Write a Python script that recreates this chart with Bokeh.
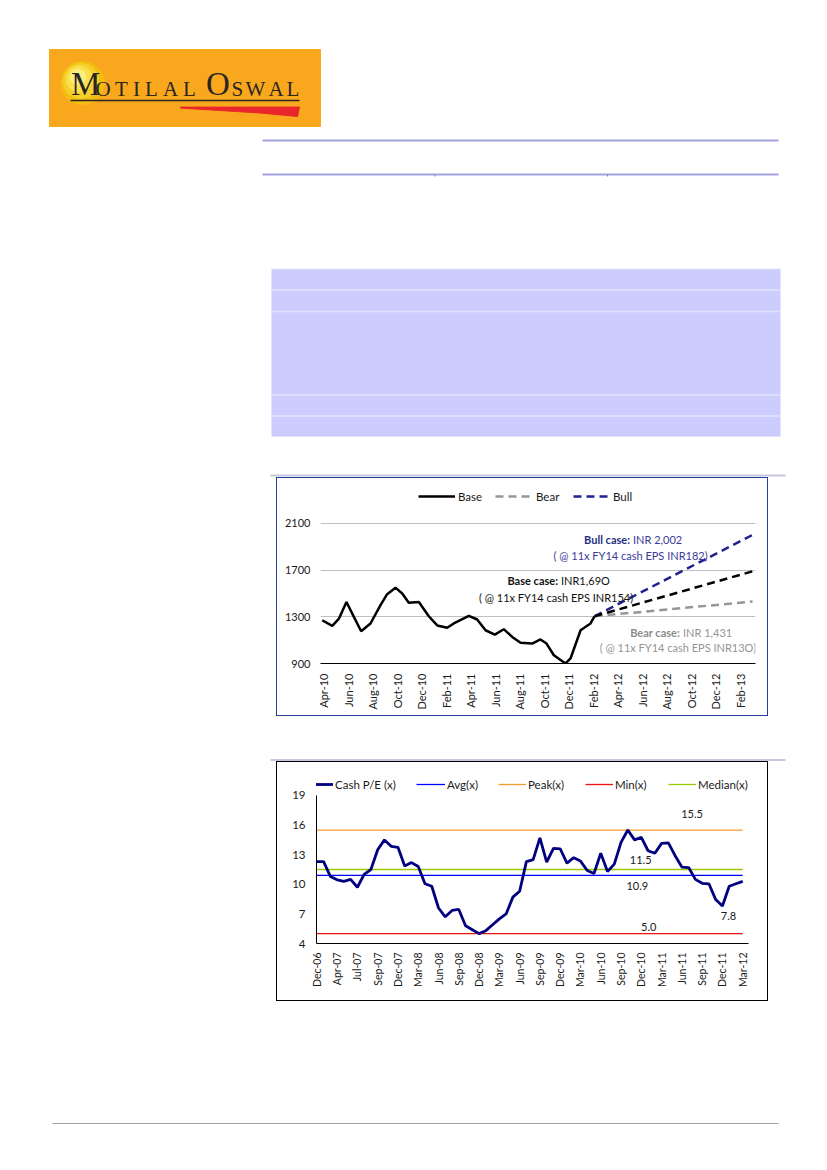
import math
from bokeh.plotting import figure
from bokeh.layouts import column, row
from bokeh.models import Range1d, Spacer, FixedTicker, Legend, LegendItem
from bokeh.embed import file_html
from bokeh.resources import INLINE
from bokeh.core.properties import value

FONT = "Lato"

# ---------------- chart 1 data (price, INR) ----------------
price_tick_months = [0, 2, 4, 6, 8, 10, 12, 14, 16, 18, 20, 22, 24, 26, 28, 30, 32, 34]
price_tick_labels = ["Apr-10", "Jun-10", "Aug-10", "Oct-10", "Dec-10", "Feb-11", "Apr-11",
                     "Jun-11", "Aug-11", "Oct-11", "Dec-11", "Feb-12", "Apr-12", "Jun-12",
                     "Aug-12", "Oct-12", "Dec-12", "Feb-13"]
price_y_ticks = [900, 1300, 1700, 2100]

# months since Apr-10
base_month = [-0.13, 0.69, 1.22, 1.85, 2.32, 3.05, 3.81, 4.63, 5.17, 5.85, 6.40, 6.94, 7.76,
              8.57, 9.26, 10.07, 10.61, 11.84, 12.52, 13.2, 13.96, 14.69, 15.38, 16.06, 17.01,
              17.69, 18.18, 18.78, 19.73, 20.14, 20.96, 21.77, 22.1]
base_price = [1271, 1222, 1282, 1427, 1328, 1176, 1243, 1400, 1494, 1550, 1500, 1420, 1427,
              1305, 1226, 1206, 1243, 1308, 1277, 1185, 1148, 1194, 1128, 1077, 1071,
              1106, 1071, 971, 900, 943, 1185, 1243, 1305]

proj_month = [22.1, 35.0]
bull_proj = [1305, 2002]
base_proj = [1305, 1690]
bear_proj = [1305, 1431]

# ---------------- chart 2 data (cash P/E) ----------------
pe_tick_labels = ["Dec-06", "Apr-07", "Jul-07", "Sep-07", "Dec-07", "Mar-08", "Jun-08",
                  "Sep-08", "Dec-08", "Mar-09", "Jun-09", "Sep-09", "Dec-09", "Mar-10",
                  "Jun-10", "Sep-10", "Dec-10", "Mar-11", "Jun-11", "Sep-11", "Dec-11", "Mar-12"]
cash_pe = [12.3, 12.3, 10.8, 10.45, 10.3, 10.5, 9.7, 11.0, 11.5, 13.5, 14.5, 13.85, 13.75,
           11.85, 12.2, 11.8, 10.05, 9.8, 7.6, 6.7, 7.35, 7.45, 5.8, 5.4, 5.0, 5.3, 5.9, 6.5,
           7.0, 8.7, 9.3, 12.3, 12.5, 14.7, 12.25, 13.65, 13.6, 12.15, 12.7, 12.35, 11.4,
           11.1, 13.15, 11.3, 12.05, 14.25, 15.5, 14.5, 14.75, 13.4, 13.15, 14.15, 14.2,
           12.9, 11.75, 11.7, 10.5, 10.1, 10.05, 8.45, 7.8, 9.8, 10.05, 10.3]
pe_avg = 10.9
pe_peak = 15.5
pe_min = 5.0
pe_median = 11.5
pe_y_ticks = [4, 7, 10, 13, 16, 19]

pe_idx = list(range(len(cash_pe)))
pe_tick_idx = pe_idx[::3]

PAGE_W = 819


def blank(height, y0, y1):
    f = figure(width=PAGE_W, height=height, x_range=Range1d(0, PAGE_W),
               y_range=Range1d(y1, y0), output_backend="svg", toolbar_location=None,
               x_axis_location=None, y_axis_location=None, min_border=0,
               outline_line_color=None, background_fill_color="white",
               border_fill_color="white")
    f.xgrid.visible = False
    f.ygrid.visible = False
    return f


# ---------------- page top (logo, rules, table block) ----------------
top = blank(477, 0, 477)
top.quad(left=[49], right=[320], top=[49], bottom=[126], color="#F9A81D")
for cx, cy, r, c in [(82, 82.5, 21.5, "#F2BE12"), (80.5, 80.5, 17.5, "#F6D02A"),
                     (79, 78.5, 13, "#F9E04A"), (77.5, 76.5, 8, "#FCEE7C")]:
    top.circle(x=[cx], y=[cy], radius=r, color=c)
serif = value("Liberation Serif")
top.text(x=[70.5, 205.5], y=[83.5, 83.5], text=["M", "O"], text_font=serif,
         text_font_size=value("33px"), text_color="#2B2523", text_baseline="middle")
top.text(x=[95, 114.5, 132.5, 144.5, 162.5, 182.5, 231, 245, 268, 286], y=[88] * 10,
         text=["O", "T", "I", "L", "A", "L", "S", "W", "A", "L"], text_font=serif,
         text_font_size=value("21px"), text_color="#2B2523", text_baseline="middle")
top.line([70, 299], [100, 100], color="#2B2523", line_width=1.5)
top.patch([180, 299, 297, 260, 180], [106.6, 106.6, 116, 112.5, 107.6], color="#E8262B")

top.line([262, 778], [140, 140], color="#A3A3E0", line_width=2)
top.line([262, 778], [174, 174], color="#A3A3E0", line_width=2)
top.segment(x0=[434.5, 607], y0=[174, 174], x1=[434.5, 607], y1=[176, 176],
            color="#7A7AD0", line_width=1)

top.quad(left=[271], right=[780], top=[268.5], bottom=[436], fill_color="#CCCCFF",
         line_color="#E4E4FF", line_width=1)
for yy in [289.5, 311, 394.5, 415.5]:
    top.line([271, 780], [yy, yy], color="#E2E2FF", line_width=1.5)
top.line([270, 785], [475, 475], color="#C7C7DD", line_width=2)

# ---------------- chart 1 ----------------
p1 = figure(width=492, height=239, x_range=Range1d(-0.27, 35.24),
            y_range=Range1d(900, 2425.7), output_backend="svg", toolbar_location=None,
            min_border_left=43, min_border_right=14, min_border_top=7, min_border_bottom=54,
            outline_line_color=None, background_fill_color="white", border_fill_color="white",
            styles={"border": "1px solid #22409A"})
p1.xgrid.visible = False
p1.ygrid.ticker = FixedTicker(ticks=price_y_ticks)
p1.ygrid.grid_line_color = "#BFBFBF"
p1.xaxis.ticker = FixedTicker(ticks=price_tick_months)
p1.xaxis.major_label_overrides = {m: l for m, l in zip(price_tick_months, price_tick_labels)}
p1.xaxis.major_label_orientation = math.pi / 2
p1.xaxis.axis_line_color = "black"
p1.xaxis.major_label_standoff = 10
p1.yaxis.ticker = FixedTicker(ticks=price_y_ticks)
p1.yaxis.axis_line_color = None
p1.yaxis.major_label_standoff = 10
for ax in (p1.xaxis, p1.yaxis):
    ax.major_tick_line_color = None
    ax.minor_tick_line_color = None
    ax.major_tick_out = 0
    ax.major_label_text_font = FONT
    ax.major_label_text_font_size = "11px"
    ax.major_label_text_color = "#1A1A1A"

BULL_C = "#202090"
r_bull = p1.line(proj_month, bull_proj, color=BULL_C, line_width=2.5, line_dash="8 5")
r_bear = p1.line(proj_month, bear_proj, color="#969696", line_width=2.5, line_dash="8 5")
r_bproj = p1.line(proj_month, base_proj, color="black", line_width=2.5, line_dash="8 5")
r_base = p1.line(base_month, base_price, color="black", line_width=2.5)

f11 = value(FONT)
def label_pair(p, x, y, bold, rest, c1, c2):
    p.text(x=[x], y=[y], text=[bold], text_font=f11, text_font_size=value("11px"),
           text_font_style="bold", text_align="right", text_baseline="middle",
           text_color=c1, x_offset=-1.5)
    p.text(x=[x], y=[y], text=[rest], text_font=f11, text_font_size=value("11px"),
           text_align="left", text_baseline="middle", text_color=c2, x_offset=1.5)

def label_one(p, x, y, t, c, size="11px"):
    p.text(x=[x], y=[y], text=[t], text_font=f11, text_font_size=value(size),
           text_align="center", text_baseline="middle", text_color=c)

label_pair(p1, 25.12, 1962.8, "Bull case:", "INR 2,002", "#1F2F7F", "#3B3B9B")
label_one(p1, 25.04, 1825.7, "( @ 11x FY14 cash EPS INR182)", "#3B3B9B")
label_pair(p1, 19.24, 1611.4, "Base case:", "INR1,69O", "#111111", "#111111")
label_one(p1, 18.96, 1468.3, "( @ 11x FY14 cash EPS INR154)", "#111111")
label_pair(p1, 29.2, 1168.3, "Bear case:", "INR 1,431", "#8C8C8C", "#959595")
label_one(p1, 28.91, 1039.7, "( @ 11x FY14 cash EPS INR13O)", "#959595")

def add_legend(p, rend, label, vx, vy, gw, standoff, size="11.5px"):
    lg = Legend(items=[LegendItem(label=label, renderers=[rend])], location=(vx, vy),
                orientation="horizontal", padding=0, margin=0, spacing=0,
                border_line_color=None, background_fill_alpha=0, glyph_width=gw,
                glyph_height=20, label_height=20, label_standoff=standoff,
                label_text_font=FONT, label_text_font_size=size,
                label_text_color="#1A1A1A")
    p.add_layout(lg)

add_legend(p1, r_base, "Base", 98, 157, 37, 3)
add_legend(p1, r_bear, "Bear", 175, 157, 38, 3)
add_legend(p1, r_bull, "Bull", 253, 157, 37, 3)

# ---------------- gap between charts ----------------
mid = blank(43, 718, 761)
mid.line([270, 785], [759.5, 759.5], color="#C7C7DD", line_width=2)

# ---------------- chart 2 ----------------
p2 = figure(width=492, height=240, x_range=Range1d(-0.05, 63.855),
            y_range=Range1d(4, 4 + 173 / 9.867), output_backend="svg", toolbar_location=None,
            min_border_left=39, min_border_right=21, min_border_top=8, min_border_bottom=59,
            outline_line_color=None, background_fill_color="white", border_fill_color="white",
            styles={"border": "1px solid #000000"})
p2.xgrid.visible = False
p2.ygrid.visible = False
p2.xaxis.ticker = FixedTicker(ticks=pe_tick_idx)
p2.xaxis.major_label_overrides = {i: l for i, l in zip(pe_tick_idx, pe_tick_labels)}
p2.xaxis.major_label_orientation = math.pi / 2
p2.xaxis.major_label_standoff = 9
p2.xaxis.major_label_text_font_size = "10.5px"
p2.yaxis.ticker = FixedTicker(ticks=pe_y_ticks)
p2.yaxis.bounds = (4, 19)
p2.yaxis.major_label_standoff = 11
p2.yaxis.major_label_text_font_size = "11.5px"
for ax in (p2.xaxis, p2.yaxis):
    ax.axis_line_color = "black"
    ax.major_tick_line_color = None
    ax.minor_tick_line_color = None
    ax.major_tick_out = 0
    ax.major_label_text_font = FONT
    ax.major_label_text_color = "#1A1A1A"

x_ends = [pe_idx[0], pe_idx[-1]]
r_avg = p2.line(x_ends, [pe_avg, pe_avg], color="#0000FF", line_width=1.3)
r_peak = p2.line(x_ends, [pe_peak, pe_peak], color="#F79A2E", line_width=1.3)
r_min = p2.line(x_ends, [pe_min, pe_min], color="#EE1111", line_width=1.3)
r_med = p2.line(x_ends, [pe_median, pe_median], color="#99CC00", line_width=1.3)
r_pe = p2.line(pe_idx, cash_pe, color="#000080", line_width=2.8)

label_one(p2, 55.5, 17.14, "15.5", "#1A1A1A")
label_one(p2, 47.9, 12.48, "11.5", "#1A1A1A")
label_one(p2, 47.4, 9.78, "10.9", "#1A1A1A")
label_one(p2, 60.9, 6.74, "7.8", "#1A1A1A")
label_one(p2, 49.1, 5.65, "5.0", "#1A1A1A")

add_legend(p2, r_pe, "Cash P/E (x)", -11, 149, 28, 2)
add_legend(p2, r_avg, "Avg(x)", 100, 149, 29, 2)
add_legend(p2, r_peak, "Peak(x)", 182, 149, 28, 2)
add_legend(p2, r_min, "Min(x)", 269, 149, 28, 2)
add_legend(p2, r_med, "Median(x)", 352, 149, 28, 2)

# ---------------- page bottom ----------------
bottom = blank(150, 1003, 1153)
bottom.line([52, 778], [1123, 1123], color="#A0A0A0", line_width=1)

page = column(top,
              row(Spacer(width=276, height=241), p1, spacing=0),
              mid,
              row(Spacer(width=276, height=242), p2, spacing=0),
              bottom, spacing=0)

open("out.html", "w").write(file_html(page, INLINE))
